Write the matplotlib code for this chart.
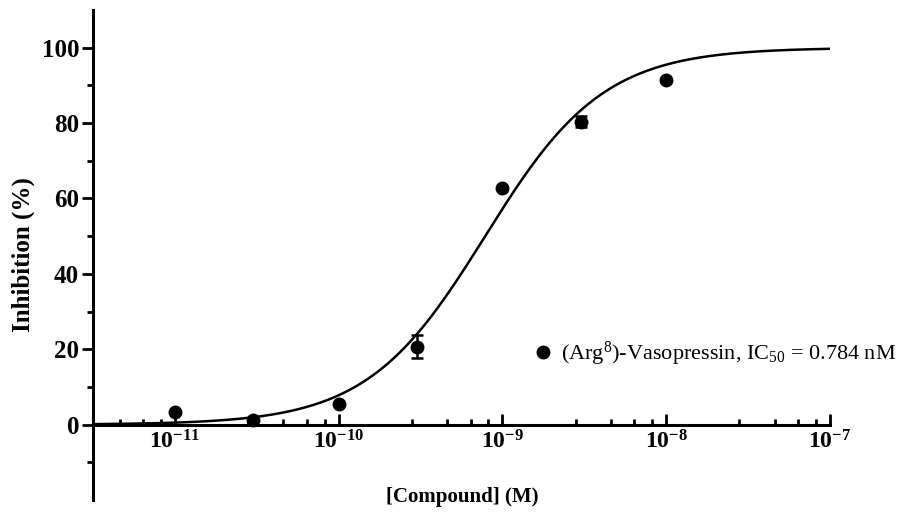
import numpy as np
import matplotlib
matplotlib.use("Agg")
import matplotlib.pyplot as plt
from matplotlib.ticker import FixedLocator, LogLocator, NullFormatter

plt.rcParams['font.family'] = ['Liberation Serif', 'DejaVu Serif']
plt.rcParams['mathtext.fontset'] = 'custom'
plt.rcParams['mathtext.rm'] = 'Liberation Serif'
plt.rcParams['mathtext.it'] = 'Liberation Serif:italic'
plt.rcParams['mathtext.bf'] = 'Liberation Serif:bold'

# measured points
conc = [1e-11, 3e-11, 1e-10, 3e-10, 1e-9, 3e-9, 1e-8]
inhib = [3.4, 1.1, 5.6, 20.7, 62.9, 80.4, 91.5]
err = [0.0, 0.0, 0.0, 3.0, 0.0, 1.5, 0.0]

# fitted curve params
ic50 = 0.784e-9
hill = 1.2
top = 100.0
bottom = 0.0

xfit = np.logspace(np.log10(3.16e-12), -7, 400)
yfit = bottom + (top - bottom) / (1 + (ic50 / xfit) ** hill)

fig = plt.figure(figsize=(9.11, 5.23), dpi=100)
ax = fig.add_axes([93/911, 1-500/523, (830-93)/911, 490/523])

ax.plot(xfit, yfit, color='k', lw=1.8, zorder=2)
ax.errorbar(conc, inhib, yerr=err, fmt='none', ecolor='k', capsize=4,
            elinewidth=1.8, capthick=1.8, zorder=3)
ax.plot(conc, inhib, 'o', color='k', ms=9, zorder=4,
        label=r'(Arg$^{8}$)-Vasopressin, IC$_{50}$ = 0.784 nM')

ax.set_xscale('log')
ax.set_xlim(3.16e-12, 1e-7)
ax.set_ylim(-20, 110)

ax.spines['top'].set_visible(False)
ax.spines['right'].set_visible(False)
ax.spines['bottom'].set_position(('data', 0))
for s in ['left', 'bottom']:
    ax.spines[s].set_linewidth(2.2)

ax.yaxis.set_major_locator(FixedLocator([0, 20, 40, 60, 80, 100]))
ax.yaxis.set_minor_locator(FixedLocator([-10, 10, 30, 50, 70, 90]))
ax.xaxis.set_major_locator(FixedLocator([1e-11, 1e-10, 1e-9, 1e-8, 1e-7]))
ax.xaxis.set_minor_locator(LogLocator(base=10, subs=[2.8, 4.6, 6.4, 8.2]))
ax.xaxis.set_minor_formatter(NullFormatter())
ax.set_xticklabels([r'$\mathbf{10^{-11}}$', r'$\mathbf{10^{-10}}$', r'$\mathbf{10^{-9}}$',
                    r'$\mathbf{10^{-8}}$', r'$\mathbf{10^{-7}}$'])

ax.tick_params(axis='x', which='major', direction='in', length=8, width=2, labelsize=17, pad=4)
ax.tick_params(axis='x', which='minor', direction='in', length=4, width=2)
ax.tick_params(axis='y', which='major', direction='out', length=8, width=2, labelsize=18, pad=2)
ax.tick_params(axis='y', which='minor', direction='out', length=4, width=2)
for lab in ax.get_yticklabels():
    lab.set_fontweight('bold')

ax.set_ylabel('Inhibition (%)', fontsize=18, fontweight='bold', labelpad=5)
fig.text(462/911, 1-497/523, '[Compound] (M)', fontsize=15, fontweight='bold',
         ha='center', va='center')

ax.legend(loc='center left', bbox_to_anchor=(532/911, 1-354/523),
          bbox_transform=fig.transFigure, frameon=False, fontsize=16,
          handletextpad=0.3, borderpad=0, borderaxespad=0, handlelength=1.0)

fig.savefig('out.png', dpi=100)
